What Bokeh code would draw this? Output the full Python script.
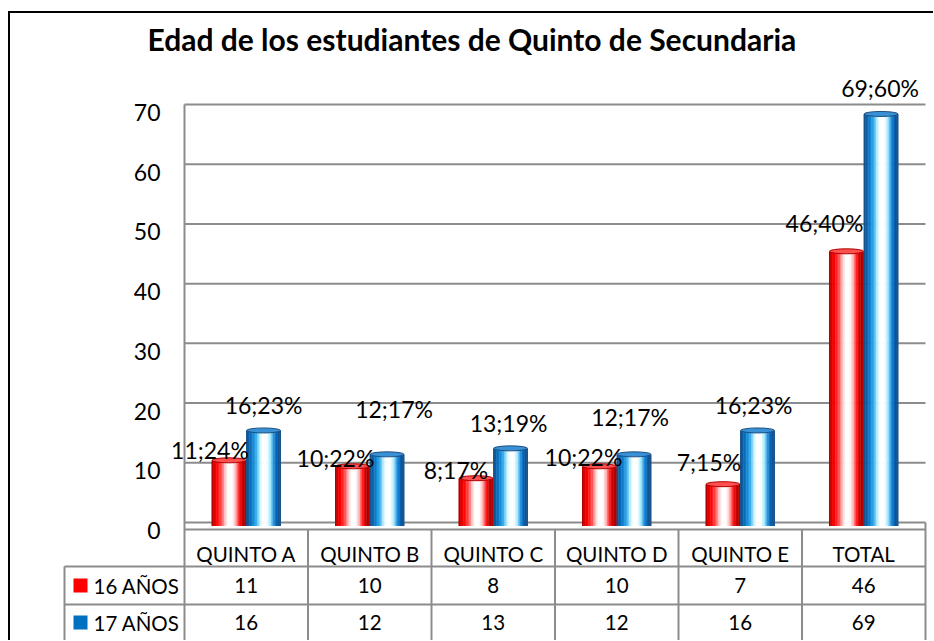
import numpy as np
from bokeh.plotting import figure
from bokeh.models import Range1d, LinearAxis, FixedTicker
from bokeh.layouts import column
from bokeh.core.properties import value
from bokeh.embed import file_html
from bokeh.resources import INLINE

# ---------------- data ----------------
titulo = "Edad de los estudiantes de Quinto de Secundaria"
categorias = ["QUINTO A", "QUINTO B", "QUINTO C", "QUINTO D", "QUINTO E", "TOTAL"]
series = ["16 AÑOS", "17 AÑOS"]
edad_16 = [11, 10, 8, 10, 7, 46]
edad_17 = [16, 12, 13, 12, 16, 69]
pct_16 = ["24%", "22%", "17%", "22%", "15%", "40%"]
pct_17 = ["23%", "17%", "19%", "17%", "23%", "60%"]
y_ticks = [0, 10, 20, 30, 40, 50, 60, 70]

# ---------------- style / geometry (page pixels) ----------------
FONT = "Lato"
GRID = "#8c8c8c"
OX, OY = 10, 13          # page offset of the figure (outer border + margin)
W = 923
H = 640 - OY
PX_CAT = 123.5           # px per category
PPU = 418.0 / 70.0       # px per unit on value axis
BW = 0.28                # bar width (category units)
OFF = [-0.14, 0.14]
FRAME_L = 60             # page x of frame left edge
X0 = 184                 # page x of category 0 boundary
Y0 = 522                 # page y of value 0

# label placement nudges (screen px): horizontal shift, height of label centre above bar top
lab_dx = [[-19, -17, -20, -16, -14, -22], [0, 7, -2, -4, -4, -1]]
lab_up = [[10, 8, 8, 9, 22, 28], [25, 45, 25, 37, 25, 26]]

red_stops = [(0.00, "#9a0000"), (0.07, "#dd0000"), (0.16, "#ff0000"), (0.30, "#ff5a5a"),
             (0.40, "#ffd0d0"), (0.48, "#ffffff"), (0.60, "#ffffff"), (0.70, "#ffb4b4"),
             (0.80, "#ff1a1a"), (0.88, "#d00000"), (0.95, "#a00000"), (1.00, "#c80000")]
blue_stops = [(0.00, "#1c4a78"), (0.08, "#0a5fa8"), (0.18, "#0a7fcf"), (0.30, "#3cb0ee"),
              (0.40, "#c4f2ff"), (0.48, "#ffffff"), (0.60, "#ffffff"), (0.70, "#a8ecff"),
              (0.80, "#1f8fe0"), (0.88, "#0663b2"), (0.95, "#134d86"), (1.00, "#1a5a98")]
legend_colors = ["#ff0000", "#0070c0"]
cap_fill = ["#ff5050", "#3a90d4"]
cap_line = ["#b00000", "#1c4f82"]


def hex2rgb(h):
    h = h.lstrip("#")
    return np.array([int(h[i:i + 2], 16) for i in (0, 2, 4)], dtype=float)


def interp(stops, t):
    for (p0, c0), (p1, c1) in zip(stops[:-1], stops[1:]):
        if p0 <= t <= p1:
            f = (t - p0) / (p1 - p0) if p1 > p0 else 0
            c = hex2rgb(c0) * (1 - f) + hex2rgb(c1) * f
            return "#%02x%02x%02x" % tuple(int(round(v)) for v in c)
    return stops[-1][1]


def px(xp):   # page x -> data x
    return (xp - X0) / PX_CAT


def py(yp):   # page y -> data y
    return (Y0 - yp) / PPU


ncat = len(categorias)
xc = np.arange(ncat) + 0.5
x_start, x_end = px(FRAME_L), px(OX + W)
y_start, y_end = py(OY + H), py(OY)

p = figure(width=W, height=H, output_backend="svg", toolbar_location=None, title=None,
           x_range=Range1d(x_start, x_end), y_range=Range1d(y_start, y_end),
           x_axis_location=None, y_axis_location=None,
           min_border_left=FRAME_L - OX, min_border_right=0,
           min_border_top=0, min_border_bottom=0,
           background_fill_color="white", border_fill_color="white")
p.outline_line_color = None
p.xgrid.visible = False
p.ygrid.visible = False

lab_shift = 8 / PPU
front_shift = 3.5 / PPU
p.extra_y_ranges = {
    "lab": Range1d(y_start + lab_shift, y_end + lab_shift),
    "front": Range1d(y_start + front_shift, y_end + front_shift),
}

ax = LinearAxis(y_range_name="lab", ticker=FixedTicker(ticks=y_ticks),
                fixed_location=px(165))
ax.axis_line_color = None
ax.major_tick_line_color = None
ax.minor_tick_line_color = None
ax.major_tick_out = 0
ax.major_tick_in = 0
ax.major_label_standoff = 5
ax.major_label_text_font = FONT
ax.major_label_text_font_size = "23px"
ax.major_label_text_color = "black"
p.add_layout(ax, "left")

# chart title
p.text(x=[px(147)], y=[py(38)], text=[titulo], text_align="left",
       text_baseline="middle", text_font=value(FONT), text_font_size=value("30px"),
       text_font_style="bold", text_color="black")

# back wall gridlines
p.segment(x0=[0] * len(y_ticks), x1=[ncat] * len(y_ticks), y0=y_ticks, y1=y_ticks,
          line_color=GRID, line_width=2)

# ---- data table below the chart ----
t_top, r1, r2, t_bot = py(529), py(566), py(604), py(OY + H)
leg_l = px(64)
p.segment(x0=[0, leg_l, leg_l], x1=[ncat] * 3, y0=[t_top, r1, r2], y1=[t_top, r1, r2],
          line_color=GRID, line_width=2)
vx = list(range(ncat + 1))
vtop = [max(y_ticks)] + [t_top] * (ncat - 1) + [0]
p.segment(x0=vx, x1=vx, y0=vtop, y1=[t_bot] * len(vx), line_color=GRID, line_width=2)
p.segment(x0=[leg_l], x1=[leg_l], y0=[r1], y1=[t_bot], line_color=GRID, line_width=2)

p.text(x=xc, y=[py(553)] * ncat, text=categorias, text_align="center",
       text_baseline="middle", text_font=value(FONT), text_font_size=value("20.5px"),
       text_color="black")
row_c = [py(585), py(622)]
for r, vals in enumerate([edad_16, edad_17]):
    p.text(x=xc, y=[row_c[r]] * ncat, text=[str(v) for v in vals], text_align="center",
           text_baseline="middle", text_font=value(FONT), text_font_size=value("20.5px"),
           text_color="black")
p.scatter(x=[px(80)] * 2, y=row_c, marker="square", size=14,
          fill_color=legend_colors, line_color=None)
p.text(x=[px(93)] * 2, y=row_c, text=series, text_align="left", text_baseline="middle",
       text_font=value(FONT), text_font_size=value("20.5px"), text_color="black")

# ---- cylinders ----
N = 22
for s, (vals, stops) in enumerate([(edad_16, red_stops), (edad_17, blue_stops)]):
    for k in range(N):
        frac = (k + 0.5) / N
        col = interp(stops, frac)
        xs = xc + OFF[s] - BW / 2 + frac * BW
        p.vbar(x=xs, top=vals, bottom=0, width=BW / N * 1.25, fill_color=col,
               line_color=None, y_range_name="front")
    p.ellipse(x=xc + OFF[s], y=vals, width=BW * 0.98, height=5, height_units="screen",
              fill_color=cap_fill[s], line_color=cap_line[s], line_width=1,
              y_range_name="front")

# ---- data labels ----
for s, (vals, pcts) in enumerate([(edad_16, pct_16), (edad_17, pct_17)]):
    p.text(x=xc + OFF[s], y=vals, text=["%d;%s" % (v, pc) for v, pc in zip(vals, pcts)],
           x_offset=lab_dx[s], y_offset=[3.5 - u for u in lab_up[s]],
           text_align="center", text_baseline="middle",
           text_font=value(FONT), text_font_size=value("23px"), text_color="black")

layout = column(p, spacing=0, margin=(OY - 2, 0, 0, OX - 2),
                styles={"border-top": "2px solid black", "border-left": "2px solid black"})
open("out.html", "w").write(file_html(layout, INLINE))
